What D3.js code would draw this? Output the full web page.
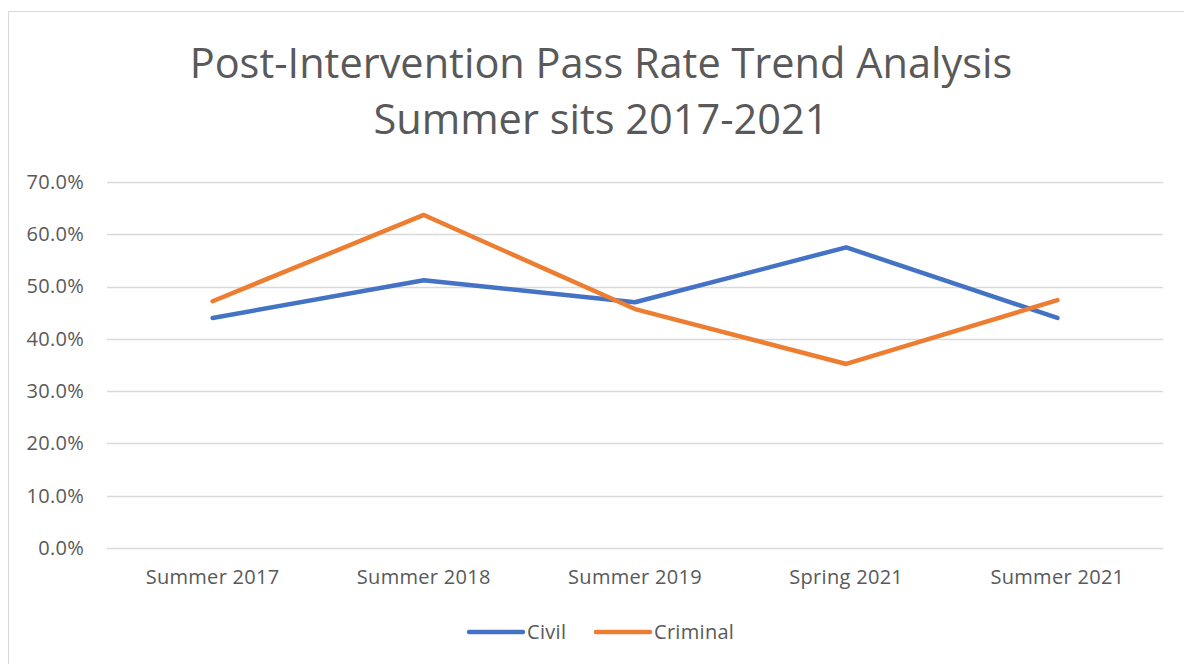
<!DOCTYPE html>
<html lang="en">
<head>
<meta charset="utf-8">
<script src="https://d3js.org/d3.v7.min.js"></script>
<style>
  body { margin: 0; background: #fff; }
  text { font-family: "Open Sans", "Noto Sans", sans-serif; fill: #595959; }
</style>
</head>
<body>
<script>
// chart data
var categories = ["Summer 2017", "Summer 2018", "Summer 2019", "Spring 2021", "Summer 2021"];
var civil = [0.440, 0.512, 0.470, 0.575, 0.440];
var criminal = [0.472, 0.637, 0.457, 0.352, 0.474];
var seriesNames = ["Civil", "Criminal"];
var yTicks = [0, 0.1, 0.2, 0.3, 0.4, 0.5, 0.6, 0.7];
var titleLines = ["Post-Intervention Pass Rate Trend Analysis", "Summer sits 2017-2021"];

var width = 1184, height = 664;
var colors = ["#4472C4", "#ED7D31"];

var svg = d3.select("body").append("svg")
    .attr("width", width)
    .attr("height", height);

// outer chart border
svg.append("rect")
    .attr("x", 8.5).attr("y", 11.5)
    .attr("width", width).attr("height", height)
    .attr("fill", "none")
    .attr("stroke", "#d9d9d9");

svg.selectAll(".title")
    .data(titleLines)
    .enter().append("text")
    .attr("class", "title")
    .attr("x", 601)
    .attr("y", function(d, i) { return 78 + i * 56; })
    .attr("text-anchor", "middle")
    .attr("font-size", 41.5)
    .text(function(d) { return d; });

var x = d3.scaleBand().domain(categories).range([107, 1163]);
var y = d3.scaleLinear().domain([0, 0.7]).range([548, 182]);

// gridlines
svg.selectAll(".grid")
    .data(yTicks)
    .enter().append("line")
    .attr("x1", 107).attr("x2", 1163)
    .attr("y1", function(d) { return Math.round(y(d)) + 0.5; })
    .attr("y2", function(d) { return Math.round(y(d)) + 0.5; })
    .attr("stroke", "#d9d9d9")
    .attr("stroke-width", 1.3);

var yAxis = svg.append("g")
    .attr("transform", "translate(84,0)")
    .call(d3.axisLeft(y).tickValues(yTicks).tickFormat(d3.format(".1%")).tickSize(0).tickPadding(0));
yAxis.select(".domain").remove();
yAxis.selectAll("text").attr("font-size", 20).attr("letter-spacing", 0.3).attr("font-family", null).attr("fill", null);

var xAxis = svg.append("g")
    .attr("transform", "translate(0,548)")
    .call(d3.axisBottom(x).tickSize(0).tickPadding(22));
xAxis.select(".domain").remove();
xAxis.selectAll("text").attr("font-size", 20).attr("letter-spacing", 0.3).attr("font-family", null).attr("fill", null);

var line = d3.line()
    .x(function(d, i) { return x(categories[i]) + x.bandwidth() / 2; })
    .y(function(d) { return y(d); });

svg.selectAll(".series")
    .data([civil, criminal])
    .enter().append("path")
    .attr("class", "series")
    .attr("d", line)
    .attr("fill", "none")
    .attr("stroke", function(d, i) { return colors[i]; })
    .attr("stroke-width", 4.5)
    .attr("stroke-linecap", "round")
    .attr("stroke-linejoin", "round");

// legend
var legendX = [469, 596];
var legend = svg.selectAll(".legend")
    .data(seriesNames)
    .enter().append("g")
    .attr("class", "legend")
    .attr("transform", function(d, i) { return "translate(" + legendX[i] + ",632)"; });
legend.append("line")
    .attr("x1", 0).attr("x2", 54)
    .attr("stroke", function(d, i) { return colors[i]; })
    .attr("stroke-width", 4.5)
    .attr("stroke-linecap", "round");
legend.append("text")
    .attr("x", 58)
    .attr("dy", "0.36em")
    .attr("font-size", 20)
    .attr("letter-spacing", 0.3)
    .text(function(d) { return d; });
</script>
</body>
</html>
